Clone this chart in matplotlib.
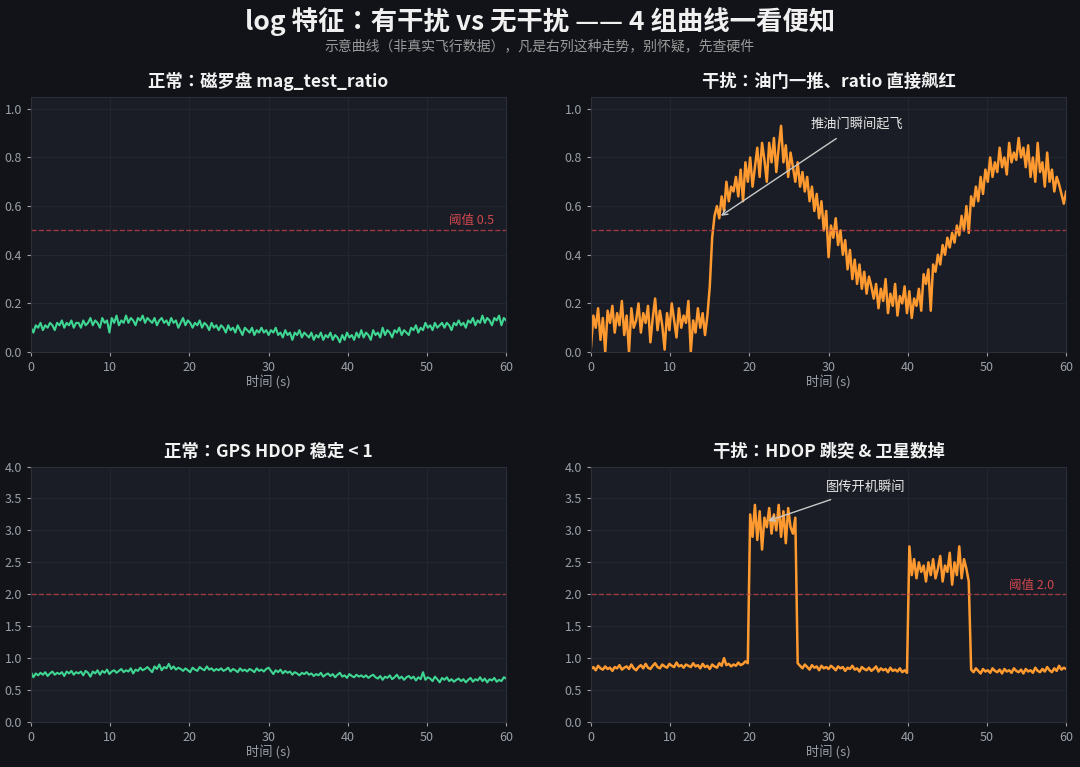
import numpy as np
import matplotlib.pyplot as plt

plt.rcParams['font.family'] = ['Noto Sans CJK SC', 'DejaVu Sans']
plt.rcParams['axes.unicode_minus'] = False

#### Data (0.3 s steps) ####
t = np.linspace(0, 60, 201)

mag_normal = [
    0.10,0.08,0.11,0.10,0.12,0.09,0.11,0.10,0.12,0.11,0.09,0.12,0.11,0.13,0.10,0.12,0.11,0.13,0.10,0.12,
    0.12,0.10,0.13,0.11,0.12,0.14,0.11,0.13,0.12,0.10,0.14,0.12,0.13,0.08,0.14,0.12,0.15,0.11,0.13,0.12,
    0.15,0.12,0.14,0.13,0.11,0.14,0.13,0.15,0.12,0.14,0.13,0.12,0.14,0.11,0.13,0.14,0.12,0.13,0.11,0.14,
    0.12,0.13,0.10,0.12,0.14,0.11,0.13,0.12,0.10,0.12,0.11,0.13,0.10,0.12,0.11,0.09,0.12,0.10,0.11,0.09,
    0.11,0.10,0.08,0.11,0.09,0.10,0.08,0.11,0.09,0.07,0.10,0.09,0.08,0.10,0.07,0.09,0.08,0.10,0.08,0.09,
    0.07,0.09,0.08,0.10,0.07,0.08,0.06,0.09,0.07,0.08,0.05,0.08,0.07,0.09,0.06,0.08,0.07,0.06,0.08,0.05,
    0.07,0.06,0.08,0.05,0.07,0.06,0.08,0.05,0.07,0.06,0.04,0.07,0.05,0.08,0.06,0.07,0.05,0.08,0.06,0.09,
    0.06,0.08,0.07,0.05,0.09,0.07,0.08,0.06,0.10,0.07,0.09,0.08,0.06,0.09,0.08,0.10,0.07,0.09,0.08,0.07,
    0.10,0.09,0.11,0.08,0.10,0.09,0.12,0.10,0.11,0.09,0.12,0.10,0.11,0.12,0.10,0.12,0.11,0.09,0.12,0.11,
    0.13,0.11,0.12,0.10,0.13,0.12,0.14,0.11,0.13,0.12,0.15,0.12,0.14,0.13,0.11,0.14,0.13,0.15,0.11,0.14,
    0.13]

mag_jam = [
    0.02,0.15,0.10,0.18,0.05,0.14,0.00,0.17,0.12,0.19,0.08,0.16,0.11,0.21,0.07,0.15,0.00,0.18,0.10,0.13,
    0.20,0.08,0.16,0.12,0.19,0.04,0.14,0.22,0.09,0.17,0.11,0.01,0.16,0.09,0.20,0.13,0.06,0.18,0.10,0.15,
    0.12,0.21,0.00,0.13,0.08,0.18,0.10,0.16,0.07,0.15,0.27,0.47,0.56,0.60,0.55,0.64,0.58,0.70,0.62,0.68,
    0.66,0.72,0.64,0.75,0.62,0.78,0.70,0.80,0.68,0.76,0.84,0.72,0.86,0.79,0.70,0.86,0.78,0.88,0.74,0.84,
    0.93,0.78,0.85,0.72,0.82,0.76,0.70,0.78,0.68,0.74,0.66,0.72,0.62,0.68,0.58,0.65,0.55,0.62,0.50,0.58,
    0.39,0.52,0.47,0.55,0.44,0.50,0.40,0.46,0.34,0.42,0.30,0.38,0.28,0.36,0.26,0.33,0.24,0.31,0.27,0.22,
    0.28,0.18,0.26,0.21,0.30,0.16,0.24,0.19,0.28,0.15,0.23,0.20,0.27,0.16,0.25,0.14,0.22,0.19,0.26,0.17,
    0.32,0.28,0.34,0.17,0.36,0.33,0.40,0.36,0.44,0.40,0.47,0.43,0.49,0.45,0.52,0.48,0.56,0.50,0.60,0.49,
    0.64,0.60,0.68,0.62,0.72,0.65,0.75,0.70,0.80,0.72,0.78,0.74,0.84,0.76,0.80,0.73,0.86,0.78,0.82,0.79,
    0.88,0.80,0.84,0.76,0.85,0.72,0.80,0.70,0.86,0.74,0.78,0.68,0.82,0.70,0.75,0.66,0.72,0.69,0.65,0.61,
    0.66]

hdop_normal = [
    0.78,0.70,0.76,0.73,0.77,0.74,0.78,0.72,0.76,0.79,0.74,0.77,0.75,0.78,0.72,0.79,0.76,0.80,0.74,0.78,
    0.76,0.79,0.73,0.80,0.77,0.71,0.79,0.76,0.81,0.74,0.80,0.77,0.82,0.75,0.79,0.81,0.77,0.80,0.83,0.78,
    0.81,0.79,0.84,0.76,0.82,0.80,0.85,0.81,0.83,0.86,0.82,0.78,0.87,0.83,0.90,0.81,0.86,0.84,0.91,0.83,
    0.87,0.82,0.85,0.83,0.80,0.84,0.81,0.78,0.85,0.82,0.80,0.86,0.83,0.81,0.87,0.82,0.84,0.80,0.83,0.81,
    0.84,0.80,0.82,0.85,0.79,0.83,0.81,0.78,0.84,0.80,0.82,0.79,0.83,0.81,0.78,0.84,0.80,0.82,0.79,0.83,
    0.85,0.80,0.75,0.81,0.78,0.82,0.76,0.80,0.77,0.79,0.74,0.78,0.76,0.73,0.77,0.75,0.78,0.74,0.76,0.72,
    0.75,0.73,0.77,0.71,0.74,0.76,0.72,0.75,0.70,0.74,0.77,0.71,0.73,0.69,0.75,0.72,0.70,0.74,0.71,0.73,
    0.70,0.73,0.69,0.72,0.74,0.70,0.68,0.72,0.66,0.71,0.69,0.73,0.67,0.70,0.74,0.68,0.71,0.66,0.70,0.72,
    0.68,0.71,0.65,0.70,0.67,0.78,0.66,0.70,0.68,0.64,0.71,0.67,0.62,0.69,0.66,0.70,0.64,0.67,0.63,0.66,
    0.68,0.64,0.67,0.62,0.66,0.69,0.63,0.67,0.65,0.70,0.64,0.68,0.62,0.67,0.65,0.69,0.63,0.66,0.64,0.70,
    0.68]

hdop_jam = [
    0.83,0.86,0.81,0.88,0.84,0.82,0.87,0.83,0.85,0.80,0.86,0.84,0.89,0.82,0.85,0.87,0.83,0.90,0.84,0.81,
    0.86,0.89,0.84,0.91,0.85,0.83,0.88,0.92,0.86,0.84,0.90,0.87,0.85,0.91,0.88,0.86,0.93,0.87,0.89,0.85,
    0.90,0.88,0.86,0.92,0.87,0.89,0.84,0.91,0.86,0.88,0.83,0.90,0.87,0.85,0.92,0.88,1.00,0.89,0.91,0.87,
    0.90,0.88,0.93,0.89,0.91,0.95,0.92,3.25,2.90,3.40,2.85,3.30,2.70,3.20,3.05,3.35,2.95,3.25,3.00,3.40,
    2.90,3.30,2.80,3.35,3.05,2.95,3.20,0.92,0.88,0.84,0.90,0.86,0.82,0.89,0.85,0.87,0.81,0.88,0.84,0.86,
    0.83,0.88,0.85,0.81,0.87,0.84,0.86,0.80,0.85,0.83,0.88,0.82,0.84,0.79,0.86,0.83,0.81,0.85,0.80,0.83,
    0.87,0.79,0.84,0.81,0.83,0.78,0.85,0.80,0.82,0.79,0.84,0.78,0.81,0.77,2.75,2.30,2.55,2.25,2.50,2.35,
    2.45,2.20,2.50,2.30,2.55,2.25,2.40,2.60,2.20,2.45,2.35,2.65,2.15,2.50,2.30,2.75,2.25,2.55,2.40,2.20,
    0.82,0.78,0.84,0.80,0.76,0.83,0.79,0.81,0.77,0.84,0.80,0.78,0.82,0.76,0.83,0.79,0.81,0.77,0.84,0.80,
    0.78,0.82,0.76,0.83,0.79,0.81,0.77,0.85,0.80,0.78,0.83,0.79,0.86,0.81,0.78,0.84,0.80,0.88,0.82,0.85,
    0.83]

titles = ["正常：磁罗盘 mag_test_ratio", "干扰：油门一推、ratio 直接飙红",
          "正常：GPS HDOP 稳定 < 1", "干扰：HDOP 跳突 & 卫星数掉"]
thresholds = [0.5, 0.5, 2.0, 2.0]


#### Colours ####
BG = "#111318"
AX_BG = "#1a1d25"
GREEN = "#3fd592"
ORANGE = "#ff9a30"
RED = "#c9424c"
GRAY = "#9aa0a8"
# centred full-width colon like the reference
TITLE_FONT = ['Noto Sans CJK JP', 'Noto Sans CJK SC', 'DejaVu Sans']


#### Panel styling ####
def style_axes(ax, ymax, yticks, title):
    ax.set_facecolor(AX_BG)
    ax.set_xlim(0, 60); ax.set_ylim(0, ymax)
    ax.set_xticks(range(0, 61, 10)); ax.set_yticks(yticks)
    ax.grid(True, color="#22262f", linewidth=0.8)
    ax.set_axisbelow(True)
    for s in ax.spines.values(): s.set_color("#2a2f39")
    ax.tick_params(colors=GRAY, labelsize=9, length=3, width=0.8)
    ax.set_xlabel("时间 (s)", color=GRAY, fontsize=9.5, labelpad=1)
    ax.set_title(title, color="#f2f2f2", fontsize=12.5, fontweight="bold", pad=7,
                 family=TITLE_FONT)


fig = plt.figure(figsize=(10.8, 7.67), dpi=100, facecolor=BG)
w, h = 0.44, 0.333
ax1 = fig.add_axes([0.0287, 0.541, w, h])
ax2 = fig.add_axes([0.5472, 0.541, w, h])
ax3 = fig.add_axes([0.0287, 0.0587, w, h])
ax4 = fig.add_axes([0.5472, 0.0587, w, h])

axes = [ax1, ax2, ax3, ax4]
series = [mag_normal, mag_jam, hdop_normal, hdop_jam]
colors = [GREEN, ORANGE, GREEN, ORANGE]

for i, ax in enumerate(axes):
    if i < 2: style_axes(ax, 1.05, np.arange(0, 1.01, 0.2), titles[i])
    else: style_axes(ax, 4.0, np.arange(0, 4.01, 0.5), titles[i])
    ax.plot(t, series[i], color=colors[i], linewidth=1.8 if colors[i] == ORANGE else 1.5)
    ax.axhline(thresholds[i], color=RED, linestyle="--", linewidth=1.0, alpha=0.75)

ax1.yaxis.set_major_formatter(plt.FormatStrFormatter("%.1f"))
ax2.yaxis.set_major_formatter(plt.FormatStrFormatter("%.1f"))

# threshold labels
ax1.text(58.5, 0.515, "阈值 0.5", color="#d0474f", fontsize=9, ha="right", va="bottom")
ax4.text(58.5, 2.03, "阈值 2.0", color="#d0474f", fontsize=9, ha="right", va="bottom")

# annotations
ax2.annotate("推油门瞬间起飞", xy=(16.4, 0.56), xytext=(33.6, 0.935),
             color="#e6e6e6", fontsize=9.5, ha="center", va="center",
             arrowprops=dict(arrowstyle="->", color="#c8c8c8", lw=1.0,
                             shrinkA=6, shrinkB=0))
ax4.annotate("图传开机瞬间", xy=(22.4, 3.15), xytext=(34.7, 3.67),
             color="#e6e6e6", fontsize=9.5, ha="center", va="center",
             arrowprops=dict(arrowstyle="->", color="#c8c8c8", lw=1.0,
                             shrinkA=6, shrinkB=0))

# headline
fig.text(0.5, 0.972, "log 特征：有干扰 vs 无干扰 —— 4 组曲线一看便知",
         color="#f0f0f0", fontsize=19, fontweight="bold", ha="center", va="center",
         family=TITLE_FONT)
fig.text(0.5, 0.94, "示意曲线（非真实飞行数据），凡是右列这种走势，别怀疑，先查硬件",
         color="#9a9a9a", fontsize=10, ha="center", va="center")

fig.savefig("out.png", dpi=100, facecolor=BG)
